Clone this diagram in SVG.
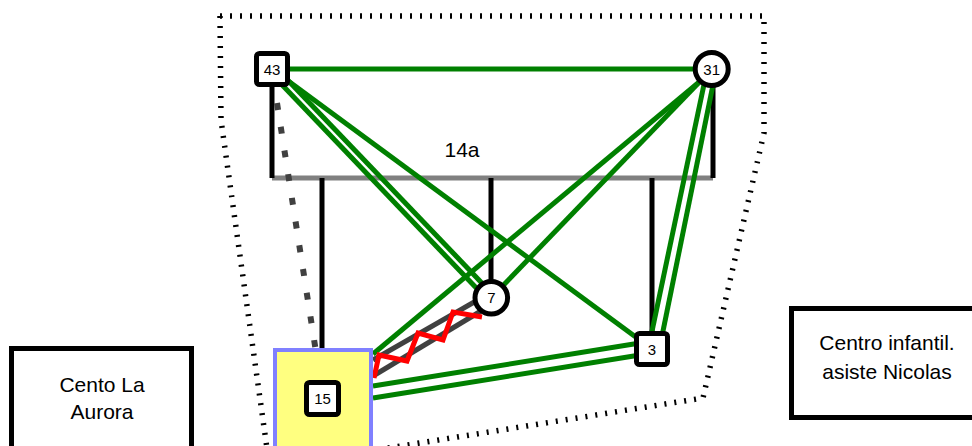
<svg xmlns="http://www.w3.org/2000/svg" width="972" height="446" viewBox="0 0 972 446">
<style>
.bnd{fill:none;stroke:#000;stroke-width:5.5;stroke-dasharray:2 8}
.g{stroke:#008000;stroke-width:5;fill:none}
.k{stroke:#000;stroke-width:5;fill:none}
.gr{stroke:#404040;stroke-width:5;fill:none}
.bar{stroke:#808080;stroke-width:5;fill:none}
.sq{fill:#fff;stroke:#000;stroke-width:5}
.ci{fill:#fff;stroke:#000;stroke-width:5}
.nt{font-family:"Liberation Sans",Arial,sans-serif;font-size:15px;text-anchor:middle;fill:#000}
.lt{font-family:"Liberation Sans",Arial,sans-serif;font-size:21px;text-anchor:middle;fill:#000}
.box{fill:#fff;stroke:#000;stroke-width:5}
</style>
<rect width="972" height="446" fill="#fff"/>
<path class="bnd" d="M220,16 L764,16 L764,133 L703,398 L300,462 M220,16 L221,120 L270,470"/>
<g id="connectors">
<line class="bar" x1="272" y1="178" x2="713" y2="178"/>
<line class="k" x1="272" y1="85" x2="272" y2="178"/>
<line class="k" x1="713" y1="85" x2="713" y2="178"/>
<line class="k" x1="322" y1="178" x2="322" y2="350"/>
<line class="k" x1="491" y1="178" x2="491" y2="282"/>
<line class="k" x1="652" y1="178" x2="652" y2="334"/>
<line class="g" x1="288" y1="69" x2="695" y2="69"/>
<line class="g" x1="272" y1="69" x2="652" y2="349"/>
<line class="g" x1="274.7" y1="66.4" x2="493.7" y2="295.4"/>
<line class="g" x1="269.3" y1="71.6" x2="488.3" y2="300.6"/>
<line class="g" x1="716" y1="68" x2="373" y2="354"/>
<line class="g" x1="712" y1="69" x2="491" y2="298"/>
<line class="g" x1="706" y1="75" x2="651" y2="336"/>
<line class="g" x1="715" y1="75" x2="662" y2="336"/>
<line class="g" x1="373" y1="386" x2="640" y2="343"/>
<line class="g" x1="373" y1="398" x2="640" y2="355"/>
<line class="gr" x1="373" y1="360" x2="476" y2="301"/>
<line class="gr" x1="373" y1="376" x2="481" y2="311"/>
<polyline fill="none" stroke="#ff0000" stroke-width="5" stroke-linejoin="miter" points="374,378 379,355 407,361 418,333 443,340 453,312 482,317"/>
<line stroke="#404040" stroke-width="6" stroke-dasharray="7 17" x1="277" y1="103" x2="316" y2="352"/>
</g>
<text class="lt" x="462" y="157" font-size="20">14a</text>
<g id="n43"><rect class="sq" x="256.5" y="53.5" width="31" height="31" rx="3"/><text class="nt" x="272" y="74.5">43</text></g>
<g id="n31"><circle class="ci" cx="711.7" cy="69" r="16.5"/><text class="nt" x="711.7" y="74.5">31</text></g>
<g id="n7"><circle class="ci" cx="491.3" cy="297.7" r="16.3"/><text class="nt" x="491.3" y="303">7</text></g>
<g id="n3"><rect class="sq" x="636.5" y="333.5" width="31" height="31" rx="3"/><text class="nt" x="652" y="354.5">3</text></g>
<g id="n15"><rect x="275" y="350" width="96" height="120" fill="#ffff80" stroke="#8080ff" stroke-width="4"/><rect class="sq" x="306.5" y="382.5" width="32" height="32" rx="3"/><text class="nt" x="322.5" y="404">15</text></g>
<g id="aurora"><rect class="box" x="11.5" y="348.5" width="180" height="120"/><text class="lt" x="102" y="392">Cento La</text><text class="lt" x="102" y="419">Aurora</text></g>
<g id="nicolas"><rect class="box" x="791.5" y="308.5" width="200" height="109"/><text class="lt" x="887" y="350">Centro infantil.</text><text class="lt" x="887" y="379">asiste Nicolas</text></g>
</svg>
